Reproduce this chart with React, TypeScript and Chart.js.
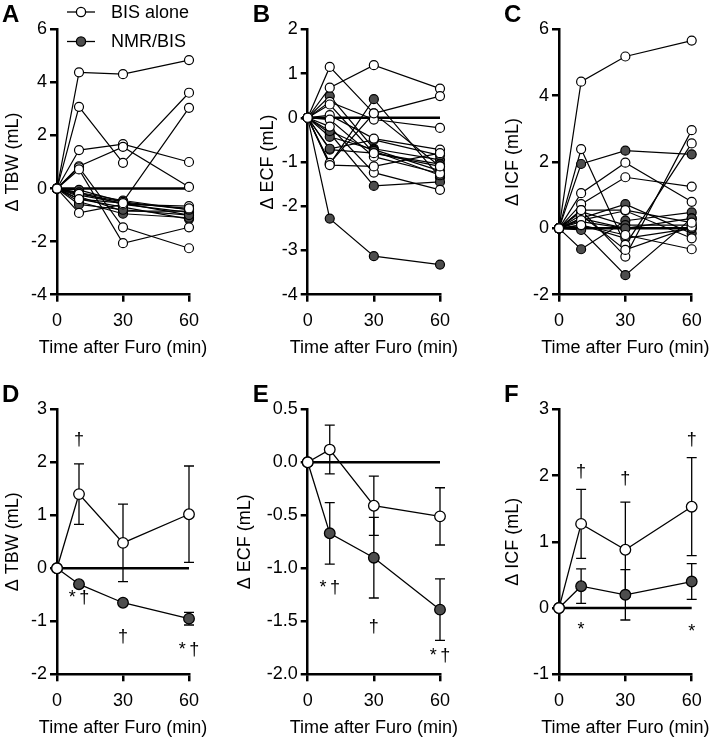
import React, { useEffect, useRef } from 'react';
import { Chart, registerables } from 'chart.js';

Chart.register(...registerables);
Chart.defaults.font.family = "'Liberation Sans', Arial, sans-serif";
Chart.defaults.color = '#000';

// ---------- shared ----------
const timePoints = [0, 10, 30, 60];
const xTicks = [0, 30, 60];
const groupLabels = ['BIS alone', 'NMR/BIS'];
const xTitle = 'Time after Furo (min)';

// ---------- Panel A: ΔTBW, individual subjects ----------
const tbwTicks = [-4, -2, 0, 2, 4, 6];
const tbwBisAlone = [
  [0, 4.38, 4.31, 4.84],
  [0, 3.08, 0.97, 3.61],
  [0, 1.45, 1.67, 1.0],
  [0, 0.84, 1.57, 0.06],
  [0, 0.8, -1.46, -2.25],
  [0, 0.72, -2.06, -1.46],
  [0, -0.92, -0.6, -0.66],
  [0, -0.2, -0.5, 3.04],
  [0, -0.4, -0.55, -0.75],
];
const tbwNmrBis = [
  [0, -0.05, -0.5, -0.8],
  [0, -0.15, -0.6, -0.9],
  [0, -0.25, -0.55, -1.0],
  [0, -0.3, -0.85, -0.85],
  [0, -0.4, -0.7, -1.15],
  [0, -0.5, -0.95, -1.1],
  [0, -0.6, -0.8, -1.0],
  [0, -0.15, -0.45, -0.8],
];

// ---------- Panel B: ΔECF, individual subjects ----------
const ecfTicks = [-4, -3, -2, -1, 0, 1, 2];
const ecfBisAlone = [
  [0, 1.15, 0.1, -1.1],
  [0, 0.68, 1.19, 0.66],
  [0, 0.36, -0.04, -0.23],
  [0, 0.06, -0.47, -0.72],
  [0, -0.04, -0.88, -1.26],
  [0, -0.2, -1.24, -1.63],
  [0, -1.02, 0.1, 0.49],
  [0, -1.07, -1.1, -0.8],
  [0, 0.3, -0.8, -1.1],
];
const ecfNmrBis = [
  [0, -2.28, -3.13, -3.32],
  [0, 0.49, -0.7, -0.95],
  [0, -1.05, 0.42, -1.35],
  [0, -0.35, -1.54, -1.45],
  [0, -0.43, -0.72, -1.2],
  [0, -0.72, -0.8, -1.05],
  [0, -0.3, -0.75, -1.3],
  [0, -0.7, -0.5, -0.85],
];

// ---------- Panel C: ΔICF, individual subjects ----------
const icfTicks = [-2, 0, 2, 4, 6];
const icfBisAlone = [
  [0, 4.42, 5.18, 5.66],
  [0, 2.39, -0.5, 2.56],
  [0, 1.06, 1.98, 0.8],
  [0, 0.73, 1.54, 1.26],
  [0, 0.55, -0.85, 2.96],
  [0, 0.4, -0.65, 0.05],
  [0, 0.25, 0.53, -0.3],
  [0, 0.1, -0.2, -0.63],
  [0, 0.55, 0.55, 0.17],
];
const icfNmrBis = [
  [0, 1.94, 2.34, 2.23],
  [0, -0.63, 0.23, 0.48],
  [0, -0.05, -1.41, 0.3],
  [0, 0.3, 0.73, -0.15],
  [0, 0.2, 0.0, 0.3],
  [0, 0.5, 0.1, 0.1],
  [0, 0.1, -0.3, 0.0],
  [0, 0.3, 0.0, 0.0],
];

// ---------- Panel D: ΔTBW mean ± error ----------
const tbwMeanTicks = [-2, -1, 0, 1, 2, 3];
const tbwMeanBis = [0, 1.4, 0.48, 1.02];
const tbwErrBis = [0, 0.57, 0.73, 0.91];
const tbwMeanNmr = [0, -0.3, -0.65, -0.95];
const tbwErrNmr = [0, 0.05, 0.05, 0.12];
const tbwMarkTimes = [10, 10, 30, 60];
const tbwMarkValues = [2.42, -0.56, -1.29, -1.54];
const tbwMarkTexts = ['†', '*\u2009†', '†', '*\u2009†'];

// ---------- Panel E: ΔECF mean ± error ----------
const ecfMeanTicks = [-2.0, -1.5, -1.0, -0.5, 0.0, 0.5];
const ecfMeanBis = [0, 0.12, -0.41, -0.51];
const ecfErrBis = [0, 0.23, 0.28, 0.27];
const ecfMeanNmr = [0, -0.67, -0.9, -1.39];
const ecfErrNmr = [0, 0.29, 0.38, 0.29];
const ecfMarkTimes = [10, 30, 60];
const ecfMarkValues = [-1.19, -1.55, -1.83];
const ecfMarkTexts = ['*\u2009†', '†', '*\u2009†'];

// ---------- Panel F: ΔICF mean ± error ----------
const icfMeanTicks = [-1, 0, 1, 2, 3];
const icfMeanBis = [0, 1.27, 0.88, 1.53];
const icfErrBis = [0, 0.52, 0.72, 0.74];
const icfMeanNmr = [0, 0.33, 0.2, 0.4];
const icfErrNmr = [0, 0.26, 0.38, 0.27];
const icfMarkTimes = [10, 30, 60, 10, 60];
const icfMarkValues = [2.06, 1.94, 2.54, -0.33, -0.36];
const icfMarkTexts = ['†', '†', '†', '*', '*'];

// ---------- styling / layout ----------
const FILL_DARK = '#4d4d4d';
const FONT_SIZE = 18;
const FONT = `${FONT_SIZE}px 'Liberation Sans', Arial, sans-serif`;

type PanelCfg = {
  letter: string;
  x: number; y: number; w: number; h: number;
  yAxisW: number; padTop: number; padRight: number; xAxisH: number;
  yTitlePad: number; xTitleY: number; letterBase: number;
  yTicks: number[]; decimals: number; yTitle: string;
  subjects?: { bis: number[][]; nmr: number[][] };
  means?: { bis: number[]; bisErr: number[]; nmr: number[]; nmrErr: number[];
            markT: number[]; markV: number[]; markS: string[] };
  legend?: boolean;
};

const row1 = { y: 0, h: 360, padTop: 29.3, xAxisH: 65.3, xTitleY: 348, letterBase: 22 };
const row2 = { y: 370, h: 371, padTop: 39.3, xAxisH: 66.7, xTitleY: 358, letterBase: 32 };
const col1 = { x: 0, w: 236, yAxisW: 57, padRight: 47 };
const col2 = { x: 236, w: 236, yAxisW: 71.7, padRight: 32 };
const col3 = { x: 472, w: 242, yAxisW: 87, padRight: 22.3 };

const panels: PanelCfg[] = [
  { letter: 'A', ...row1, ...col1, yTitlePad: 2.2, yTicks: tbwTicks, decimals: 0, yTitle: 'Δ TBW (mL)',
    subjects: { bis: tbwBisAlone, nmr: tbwNmrBis }, legend: true },
  { letter: 'B', ...row1, ...col2, yTitlePad: 21.2, yTicks: ecfTicks, decimals: 0, yTitle: 'Δ ECF (mL)',
    subjects: { bis: ecfBisAlone, nmr: ecfNmrBis } },
  { letter: 'C', ...row1, ...col3, yTitlePad: 30.2, yTicks: icfTicks, decimals: 0, yTitle: 'Δ ICF (mL)',
    subjects: { bis: icfBisAlone, nmr: icfNmrBis } },
  { letter: 'D', ...row2, ...col1, yTitlePad: 2.2, yTicks: tbwMeanTicks, decimals: 0, yTitle: 'Δ TBW (mL)',
    means: { bis: tbwMeanBis, bisErr: tbwErrBis, nmr: tbwMeanNmr, nmrErr: tbwErrNmr,
             markT: tbwMarkTimes, markV: tbwMarkValues, markS: tbwMarkTexts } },
  { letter: 'E', ...row2, ...col2, yTitlePad: -1.5, yTicks: ecfMeanTicks, decimals: 1, yTitle: 'Δ ECF (mL)',
    means: { bis: ecfMeanBis, bisErr: ecfErrBis, nmr: ecfMeanNmr, nmrErr: ecfErrNmr,
             markT: ecfMarkTimes, markV: ecfMarkValues, markS: ecfMarkTexts } },
  { letter: 'F', ...row2, ...col3, yTitlePad: 30.2, yTicks: icfMeanTicks, decimals: 0, yTitle: 'Δ ICF (mL)',
    means: { bis: icfMeanBis, bisErr: icfErrBis, nmr: icfMeanNmr, nmrErr: icfErrNmr,
             markT: icfMarkTimes, markV: icfMarkValues, markS: icfMarkTexts } },
];

const toPts = (vals: number[]) => vals.map((v, i) => ({ x: timePoints[i], y: v }));

function buildConfig(cfg: PanelCfg): any {
  const yMin = cfg.yTicks[0];
  const yMax = cfg.yTicks[cfg.yTicks.length - 1];
  const datasets: any[] = [];
  datasets.push({
    data: [{ x: xTicks[0], y: 0 }, { x: xTicks[xTicks.length - 1], y: 0 }],
    borderColor: '#000', borderWidth: 2.5, pointRadius: 0, order: 100, clip: false,
  });

  if (cfg.subjects) {
    const { bis, nmr } = cfg.subjects;
    [...nmr, ...bis].forEach((s) => {
      datasets.push({ data: toPts(s), borderColor: '#000', borderWidth: 1.2, pointRadius: 0,
        tension: 0, order: 50, clip: false });
    });
    datasets.push({ data: nmr.flatMap(toPts), showLine: false, pointRadius: 4.5,
      pointBackgroundColor: FILL_DARK, pointBorderColor: '#000', pointBorderWidth: 1.2,
      order: 20, clip: false });
    datasets.push({ data: bis.flatMap(toPts), showLine: false, pointRadius: 4.5,
      pointBackgroundColor: '#fff', pointBorderColor: '#000', pointBorderWidth: 1.2,
      order: 10, clip: false });
  }
  if (cfg.means) {
    const m = cfg.means;
    datasets.push({ data: toPts(m.nmr), borderColor: '#000', borderWidth: 1.3, pointRadius: 5.3,
      pointBackgroundColor: FILL_DARK, pointBorderColor: '#000', pointBorderWidth: 1.3,
      tension: 0, order: 20, clip: false });
    datasets.push({ data: toPts(m.bis), borderColor: '#000', borderWidth: 1.3, pointRadius: 5.3,
      pointBackgroundColor: '#fff', pointBorderColor: '#000', pointBorderWidth: 1.3,
      tension: 0, order: 10, clip: false });
  }

  const decor = {
    id: 'decor',
    beforeDatasetsDraw(chart: any) {
      if (!cfg.means) return;
      const { ctx, scales } = chart;
      const xs = scales.x, ys = scales.y;
      const m = cfg.means;
      ctx.save();
      ctx.strokeStyle = '#000';
      ctx.lineWidth = 1.3;
      const draw = (mean: number[], err: number[]) => {
        mean.forEach((v, i) => {
          if (!err[i]) return;
          const px = xs.getPixelForValue(timePoints[i]);
          const t = ys.getPixelForValue(v + err[i]);
          const b = ys.getPixelForValue(v - err[i]);
          ctx.beginPath();
          ctx.moveTo(px, t); ctx.lineTo(px, b);
          ctx.moveTo(px - 5, t); ctx.lineTo(px + 5, t);
          ctx.moveTo(px - 5, b); ctx.lineTo(px + 5, b);
          ctx.stroke();
        });
      };
      draw(m.nmr, m.nmrErr);
      draw(m.bis, m.bisErr);
      ctx.restore();
    },
    afterDraw(chart: any) {
      const { ctx, scales, chartArea } = chart;
      ctx.save();
      // panel letter
      ctx.fillStyle = '#000';
      ctx.font = "bold 24px 'Liberation Sans', Arial, sans-serif";
      ctx.textAlign = 'left';
      ctx.textBaseline = 'alphabetic';
      ctx.fillText(cfg.letter, chartArea.left - 55, cfg.letterBase);
      // x-axis title (drawn here so it is not squeezed to the axis width)
      ctx.font = FONT;
      ctx.textAlign = 'center';
      ctx.textBaseline = 'middle';
      ctx.fillText(xTitle, (chartArea.left + chartArea.right) / 2, cfg.xTitleY);
      // significance marks
      if (cfg.means) {
        const m = cfg.means;
        m.markS.forEach((s, i) => {
          ctx.fillText(s, scales.x.getPixelForValue(m.markT[i]), scales.y.getPixelForValue(m.markV[i]));
        });
      }
      // legend
      if (cfg.legend) {
        groupLabels.forEach((label, i) => {
          const ly = 12 + i * 29.5;
          ctx.strokeStyle = '#000';
          ctx.lineWidth = 1.3;
          ctx.beginPath();
          ctx.moveTo(67, ly); ctx.lineTo(95, ly);
          ctx.stroke();
          ctx.beginPath();
          ctx.arc(81, ly, 4.6, 0, Math.PI * 2);
          ctx.fillStyle = i === 0 ? '#fff' : FILL_DARK;
          ctx.fill();
          ctx.stroke();
          ctx.fillStyle = '#000';
          ctx.font = FONT;
          ctx.textAlign = 'left';
          ctx.textBaseline = 'middle';
          ctx.fillText(label, 111, ly + 1);
        });
      }
      ctx.restore();
    },
  };

  const gridOpts = { display: true, drawOnChartArea: false, drawTicks: true, tickLength: 7,
    tickWidth: 2.5, tickColor: '#000', color: '#000', lineWidth: 2.5 };

  return {
    type: 'line',
    data: { datasets },
    options: {
      responsive: false,
      animation: false,
      events: [],
      layout: { padding: { top: cfg.padTop, right: cfg.padRight, left: 0, bottom: 0 } },
      plugins: { legend: { display: false }, tooltip: { enabled: false }, title: { display: false } },
      scales: {
        x: {
          type: 'linear', min: xTicks[0], max: xTicks[xTicks.length - 1],
          afterBuildTicks: (s: any) => { s.ticks = xTicks.map((v) => ({ value: v })); },
          afterFit: (s: any) => { s.height = cfg.xAxisH; },
          border: { display: true, color: '#000', width: 2.5 },
          grid: gridOpts,
          ticks: { color: '#000', font: { size: FONT_SIZE }, padding: 9, maxRotation: 0, autoSkip: false },
          title: { display: false },
        },
        y: {
          type: 'linear', min: yMin, max: yMax,
          afterBuildTicks: (s: any) => { s.ticks = cfg.yTicks.map((v) => ({ value: v })); },
          afterFit: (s: any) => { s.width = cfg.yAxisW; },
          border: { display: true, color: '#000', width: 2.5 },
          grid: gridOpts,
          ticks: { color: '#000', font: { size: FONT_SIZE }, padding: 3, autoSkip: false,
            callback: (v: any) => Number(v).toFixed(cfg.decimals) },
          title: { display: true, text: cfg.yTitle, color: '#000', font: { size: FONT_SIZE },
            padding: { top: cfg.yTitlePad, bottom: 0 } },
        },
      },
    },
    plugins: [decor],
  };
}

function Panel({ cfg }: { cfg: PanelCfg }) {
  const ref = useRef<HTMLCanvasElement>(null);
  useEffect(() => {
    const chart = new Chart(ref.current as HTMLCanvasElement, buildConfig(cfg));
    return () => chart.destroy();
  }, [cfg]);
  return (
    <canvas
      ref={ref}
      width={cfg.w}
      height={cfg.h}
      style={{ position: 'absolute', left: cfg.x, top: cfg.y, width: cfg.w, height: cfg.h }}
    />
  );
}

export default function App() {
  return (
    <div style={{ position: 'absolute', left: 0, top: 0, width: 714, height: 741, background: '#fff' }}>
      {panels.map((p) => (
        <Panel key={p.letter} cfg={p} />
      ))}
    </div>
  );
}
